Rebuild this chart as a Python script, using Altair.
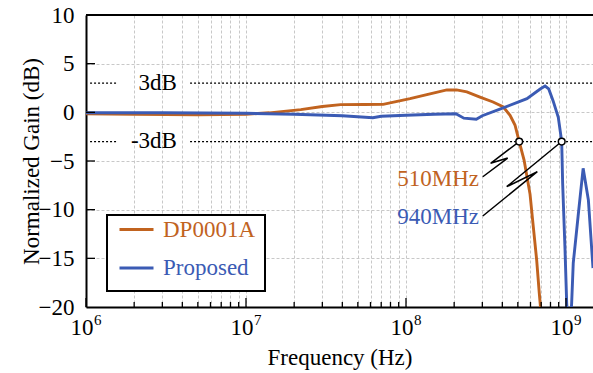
import altair as alt
import pandas as pd

FONT = "Liberation Serif"
ORANGE = "#C1631F"
BLUE = "#3B5BB4"

# ---- data ----
series_names = ["DP0001A", "Proposed"]
freq_dp = [1e6, 2e6, 5e6, 1e7, 1.4e7, 2.2e7, 3e7, 3.9e7, 5.5e7, 7.2e7, 1.06e8, 1.35e8,
           1.8e8, 2.07e8, 2.4e8, 2.9e8, 3.5e8, 4.06e8, 4.47e8, 4.8e8, 5.1e8, 5.47e8,
           5.96e8, 6.25e8, 6.56e8, 6.81e8, 7.1e8]
gain_dp = [-0.15, -0.2, -0.25, -0.2, -0.05, 0.28, 0.6, 0.79, 0.8, 0.82, 1.4, 1.82,
           2.3, 2.3, 2.1, 1.57, 1.06, 0.55, -0.3, -1.3, -3.0, -4.9,
           -8.4, -11.8, -15.2, -18.6, -22.0]
freq_pr = [1e6, 3e6, 1e7, 2e7, 4e7, 6.2e7, 7e7, 1e8, 1.5e8, 2.05e8, 2.3e8, 2.75e8,
           3.0e8, 3.9e8, 5.7e8, 6.9e8, 7.4e8, 7.8e8, 8.3e8, 8.95e8, 9.4e8, 9.53e8,
           9.86e8, 1.01e9, 1.045e9, 1.085e9, 1.11e9, 1.19e9, 1.28e9, 1.38e9, 1.475e9]
gain_pr = [-0.05, -0.05, -0.1, -0.2, -0.35, -0.55, -0.4, -0.3, -0.2, -0.15, -0.6, -0.7,
           -0.35, 0.35, 1.4, 2.4, 2.7, 2.4, 1.2, -0.5, -3.0, -7.3,
           -14.1, -19.6, -24.0, -19.6, -15.5, -10.7, -5.75, -9.0, -16.0]

x_domain = [1e6, 1.475e9]
y_domain = [-20, 10]
y_ticks = [-20, -15, -10, -5, 0, 5, 10]
decades = [1e6, 1e7, 1e8, 1e9]
exponents = ["6", "7", "8", "9"]
minor_ticks = [m * d for d in [1e6, 1e7, 1e8] for m in range(2, 10)]
grid_x = [v for v in minor_ticks + decades[1:]]

ref_levels = [3, -3]
ref_labels = ["3dB", "-3dB"]
ref_label_freq = 3.7e6
ref_segments = [(1.06e6, 1.556e6), (4.47e6, 1.475e9)]

cut_freq = [5.1e8, 9.4e8]
cut_gain = [-3, -3]
cut_text = ["510MHz", "940MHz"]
cut_text_gain = [-7.57, -11.47]
cut_text_freq = 2.86e8
cut_colors = [ORANGE, BLUE]
# leader lines with break symbol (freq, gain)
leader_1 = [(5.1e8, -3.0), (3.38e8, -5.24), (4.32e8, -4.70), (3.02e8, -6.62)]
leader_2 = [(9.4e8, -3.0), (4.26e8, -7.64), (6.62e8, -6.10), (3.02e8, -10.65)]

W, H = 507, 292

# ---- tables ----
curves = pd.concat([
    pd.DataFrame({"f": freq_dp, "g": gain_dp, "s": series_names[0]}),
    pd.DataFrame({"f": freq_pr, "g": gain_pr, "s": series_names[1]}),
])
xs = alt.Scale(type="log", domain=x_domain, nice=False)
ys = alt.Scale(domain=y_domain, nice=False)

base_axis = dict(grid=True, gridColor="#c8c8c8", gridDash=[3, 2], gridWidth=1,
                 ticks=False, domainColor="black", domainWidth=2,
                 labelFont=FONT, titleFont=FONT, labelFontSize=23, titleFontSize=23,
                 titleFontWeight="normal", labelColor="black", titleColor="black")

x_enc = alt.X("f:Q", scale=xs, axis=alt.Axis(values=grid_x, labels=False,
              title="Frequency (Hz)", titleY=57, titleBaseline="alphabetic", **base_axis))
y_enc = alt.Y("g:Q", scale=ys, axis=alt.Axis(values=y_ticks, labelPadding=12,
              title="Normalized Gain (dB)", titleX=-48, titleBaseline="alphabetic", **base_axis))

lines = alt.Chart(curves).mark_line(strokeWidth=2.9, clip=True).encode(
    x=x_enc, y=y_enc,
    color=alt.Color("s:N", scale=alt.Scale(domain=series_names, range=[ORANGE, BLUE]),
                    legend=alt.Legend(title=None, orient="none", legendX=32, legendY=196,
                                      symbolType="stroke", symbolStrokeWidth=3, symbolSize=1156,
                                      labelFont=FONT, labelFontSize=23, labelOffset=8,
                                      rowPadding=7.6, padding=0,
                                      labelColor=alt.ExprRef(expr="datum.label == 'DP0001A' ? '" + ORANGE + "' : '" + BLUE + "'"))),
    order=alt.Order("f:Q"),
)

# reference lines 3dB / -3dB
seg_rows = []
for lv in ref_levels:
    for a, b in ref_segments:
        seg_rows.append({"f": a, "f2": b, "g": lv})
ref_rules = alt.Chart(pd.DataFrame(seg_rows)).mark_rule(color="black", strokeWidth=1.2, strokeDash=[2, 2]).encode(
    x=alt.X("f:Q", scale=xs), x2="f2:Q", y=alt.Y("g:Q", scale=ys))
ref_text = alt.Chart(pd.DataFrame({"f": [ref_label_freq] * 2, "g": ref_levels, "t": ref_labels})).mark_text(
    font=FONT, fontSize=23, align="right", baseline="alphabetic", dy=6.5, color="black").encode(
    x=alt.X("f:Q", scale=xs), y=alt.Y("g:Q", scale=ys), text="t:N")

# leader lines
lead_rows = []
for k, pts in enumerate([leader_1, leader_2]):
    for i, (f, g) in enumerate(pts):
        lead_rows.append({"f": f, "g": g, "id": k, "o": i})
leaders = alt.Chart(pd.DataFrame(lead_rows)).mark_line(color="black", strokeWidth=1.5).encode(
    x=alt.X("f:Q", scale=xs), y=alt.Y("g:Q", scale=ys), detail="id:N", order="o:Q")

circles = alt.Chart(pd.DataFrame({"f": cut_freq, "g": cut_gain})).mark_point(
    shape="circle", filled=True, fill="white", stroke="black", strokeWidth=1.5, size=45, opacity=1).encode(
    x=alt.X("f:Q", scale=xs), y=alt.Y("g:Q", scale=ys))

cut_labels = alt.Chart(pd.DataFrame({"f": [cut_text_freq] * 2, "g": cut_text_gain, "t": cut_text, "c": cut_colors})).mark_text(
    font=FONT, fontSize=23, align="right", baseline="alphabetic").encode(
    x=alt.X("f:Q", scale=xs), y=alt.Y("g:Q", scale=ys), text="t:N", color=alt.Color("c:N", scale=None))

# inward ticks
xt_minor = alt.Chart(pd.DataFrame({"f": minor_ticks})).mark_rule(color="black", strokeWidth=1.3).encode(
    x=alt.X("f:Q", scale=xs), y=alt.value(H), y2=alt.value(H - 5))
xt_major = alt.Chart(pd.DataFrame({"f": decades})).mark_rule(color="black", strokeWidth=1.3).encode(
    x=alt.X("f:Q", scale=xs), y=alt.value(H), y2=alt.value(H - 9))
yt = alt.Chart(pd.DataFrame({"g": y_ticks[1:-1]})).mark_rule(color="black", strokeWidth=1.3).encode(
    y=alt.Y("g:Q", scale=ys), x=alt.value(0), x2=alt.value(9))

# x tick labels 10^n
dec_df = pd.DataFrame({"f": decades, "e": exponents, "b": ["10"] * 4})
x_base = alt.Chart(dec_df).mark_text(font=FONT, fontSize=23, align="center", baseline="alphabetic", dx=-4, color="black").encode(
    x=alt.X("f:Q", scale=xs), y=alt.value(H + 28), text="b:N")
x_exp = alt.Chart(dec_df).mark_text(font=FONT, fontSize=15, align="left", baseline="alphabetic", dx=8, color="black").encode(
    x=alt.X("f:Q", scale=xs), y=alt.value(H + 18), text="e:N")

# top border and legend frame
top_border = alt.Chart(pd.DataFrame({"a": [0]})).mark_rule(color="black", strokeWidth=2).encode(
    x=alt.value(0), x2=alt.value(W), y=alt.value(0))
legend_box = alt.Chart(pd.DataFrame({"a": [0]})).mark_rect(fill="white", stroke="black", strokeWidth=2).encode(
    x=alt.value(21), x2=alt.value(179), y=alt.value(200), y2=alt.value(276))

chart = alt.layer(
    ref_rules, ref_text, lines, leaders, circles, cut_labels,
    xt_minor, xt_major, yt, x_base, x_exp, top_border, legend_box,
).properties(
    width=W, height=H,
    autosize=alt.AutoSizeParams(type="none"),
    padding={"left": 86, "top": 15, "right": 0, "bottom": 66},
    background="white",
).configure(
    font=FONT,
).configure_axis(
    labelFont=FONT, titleFont=FONT,
).configure_legend(
    labelFont=FONT,
).configure_view(stroke=None)

chart.save("out.html", embed_options={"renderer": "svg", "actions": False})
